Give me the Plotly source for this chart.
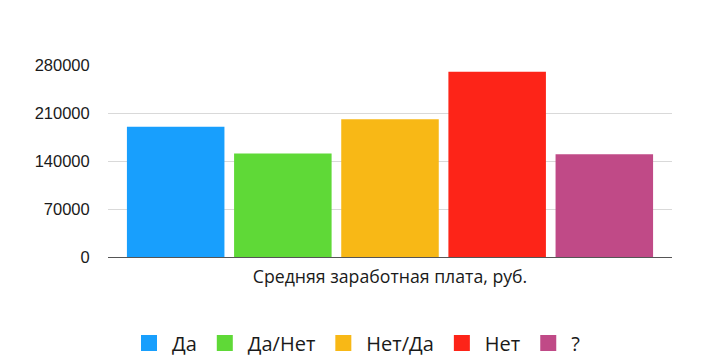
import plotly.graph_objects as go

category = ["Средняя заработная плата, руб."]
series_names = ["Да", "Да/Нет", "Нет/Да", "Нет", "?"]
series_values = [190000, 151000, 201000, 270000, 150000]
colors = ["#189FFD", "#5FD937", "#F8B816", "#FD2418", "#C04A87"]
y_ticks = [0, 70000, 140000, 210000, 280000]

fig = go.Figure()
for name, val, col in zip(series_names, series_values, colors):
    fig.add_trace(go.Bar(x=category, y=[val], name=name, marker=dict(color=col, line=dict(width=0)),
                         showlegend=False))
for name, col in zip(series_names, colors):
    fig.add_trace(go.Scatter(x=[None], y=[None], mode="markers", name=name,
                             marker=dict(symbol="square", size=19, color=col, line=dict(width=0))))

fig.update_layout(
    width=712, height=364,
    margin=dict(l=108, r=40, t=65, b=107, pad=0, autoexpand=False),
    paper_bgcolor="white", plot_bgcolor="white",
    barmode="group", bargap=0.05, bargroupgap=0.09,
    legend=dict(orientation="h", x=0.5, xanchor="center", xref="container",
                y=1 - 343 / 364, yanchor="middle", yref="container",
                font=dict(family="Open Sans", size=20, color="#1a1a1a"), itemwidth=36),
    xaxis=dict(showgrid=False, showline=True, linecolor="#555555", linewidth=1.2,
               tickfont=dict(family="Open Sans", size=17.7, color="#1a1a1a"),
               ticks="outside", ticklen=4, tickcolor="rgba(0,0,0,0)"),
    yaxis=dict(range=[0, 280000], tickvals=y_ticks, ticktext=[str(v) for v in y_ticks],
               showgrid=True, gridcolor="#d9d9d9", gridwidth=1, zeroline=False,
               tickfont=dict(family="Liberation Sans", size=16.5, color="#1a1a1a"),
               ticks="outside", ticklen=14, tickcolor="rgba(0,0,0,0)"),
)
fig.write_html("out.html")
